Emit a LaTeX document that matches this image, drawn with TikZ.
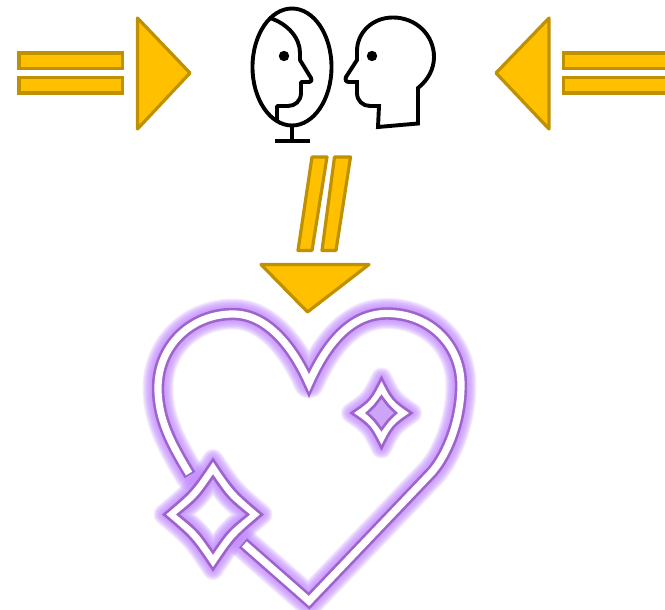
\documentclass[tikz,border=0pt]{standalone}
\definecolor{arrowfill}{HTML}{FFC000}
\definecolor{arrowline}{HTML}{BF9000}
\definecolor{neon}{HTML}{9E64CC}
\definecolor{glow}{HTML}{C28CFF}
\definecolor{glowfill}{HTML}{CDA5F8}
\tikzset{
  arrowpart/.style={draw=arrowline,fill=arrowfill,line width=3.2pt},
  arrowhd/.style={arrowpart,line join=round},
  facepart/.style={draw=black,line width=3.9pt,line join=miter},
  glowpart/.style={draw=glow,draw opacity=0.17,line join=round,line cap=round,fill=none},
  neonpart/.style={draw=neon,line width=2.6pt,line join=miter,miter limit=30}
}
\newcommand{\heartpath}{(190,475) .. controls (172,445) and (158,420) .. (158,388)
  .. controls (158,346) and (191,314) .. (233,314)
  .. controls (266,314) and (292,345) .. (309,383)
  .. controls (326,345) and (350,313.5) .. (387,313.5)
  .. controls (430,313.5) and (461,345) .. (461,385)
  .. controls (461,418) and (449,452) .. (432,472)
  -- (309,601) -- (243,543)}
\newcommand{\sparkle}[5]{(#1,#2-#4)
  .. controls (#1+#5*#3,#2-#5*#4) .. (#1+#3,#2)
  .. controls (#1+#5*#3,#2+#5*#4) .. (#1,#2+#4)
  .. controls (#1-#5*#3,#2+#5*#4) .. (#1-#3,#2)
  .. controls (#1-#5*#3,#2-#5*#4) .. cycle}
\begin{document}
\begin{tikzpicture}[x=1pt,y=-1pt]
\useasboundingbox (0,0) rectangle (665,610);
% glow
\foreach \w in {13,15,17,19,21,23,25,27,29,31}{
  \draw[glowpart,line width=\w pt] \heartpath;
  \draw[glowpart,line width=\w pt-10pt] \sparkle{213}{514.5}{49}{55}{0.43};
  \draw[glowpart,line width=\w pt-10pt] \sparkle{381.5}{413}{30}{35}{0.37};
}
% heart band
\draw[draw=neon,line width=12.4pt,line join=miter,miter limit=30] \heartpath;
\draw[draw=white,line width=7.2pt,line join=miter,miter limit=30,shorten <=1.8pt,shorten >=1.8pt] \heartpath;
% large sparkle
\draw[neonpart,fill=white] \sparkle{213}{514.5}{49}{55}{0.43};
\begin{scope}
  \clip \sparkle{213}{514.5}{35}{38}{0.43};
  \foreach \w in {4,6,8,10,12,14,16,18,20,22}{
    \draw[glowpart,line width=\w pt] \sparkle{213}{514.5}{35}{38}{0.43};
  }
\end{scope}
\draw[neonpart] \sparkle{213}{514.5}{35}{38}{0.43};
% small sparkle
\draw[neonpart,fill=white] \sparkle{381.5}{413}{30}{35}{0.37};
\draw[neonpart,fill=glowfill] \sparkle{381.5}{413}{14.5}{16.5}{0.45};
% left arrow
\draw[arrowpart] (19,53) rectangle (122.5,68.5);
\draw[arrowpart] (19,77.5) rectangle (122.5,93);
\draw[arrowhd] (137.5,18) -- (190,73) -- (137.5,129) -- cycle;
% right arrow
\draw[arrowpart] (563.5,53) rectangle (670,68.5);
\draw[arrowpart] (563.5,77.5) rectangle (670,93);
\draw[arrowhd] (549,18) -- (496,73) -- (549,129) -- cycle;
% down arrow
\draw[arrowhd] (312,157) -- (327,157) -- (312,250.5) -- (298,250.5) -- cycle;
\draw[arrowhd] (334.5,157) -- (350.5,157) -- (336,250.5) -- (322,250.5) -- cycle;
\draw[arrowhd] (261,264.5) -- (369,264.5) -- (307.5,312) -- cycle;
% mirror
\draw[facepart] (292,67) ellipse [x radius=39.5,y radius=58.5];
\draw[facepart] (292,125.5) -- (292,141);
\draw[facepart] (275,141) -- (310,141);
\fill[black] (284,56) circle (5.2);
\draw[facepart,line join=round] (270,18) .. controls (288,24) and (300,38) .. (300,53)
  -- (300,60) -- (311,78) .. controls (312,81) and (311,82) .. (308,82)
  -- (301,82) -- (301,93) .. controls (301,101) and (295,106) .. (288,106)
  -- (277,106) -- (277,120);
% head
\fill[black] (372,56) circle (5.2);
\draw[facepart,line join=miter] (378,127) -- (418,123.5) -- (418,88)
  .. controls (428,80) and (434,69) .. (434,57)
  .. controls (434,35) and (416,17.5) .. (393,17.5)
  .. controls (372,17.5) and (357,33) .. (357,51)
  -- (357,60) -- (346,77) .. controls (345,80) and (346,82) .. (349,82)
  -- (357,82) -- (357,93) .. controls (357,101) and (363,106) .. (370,106)
  -- (379,106) -- (378,127) -- cycle;
\end{tikzpicture}
\end{document}
